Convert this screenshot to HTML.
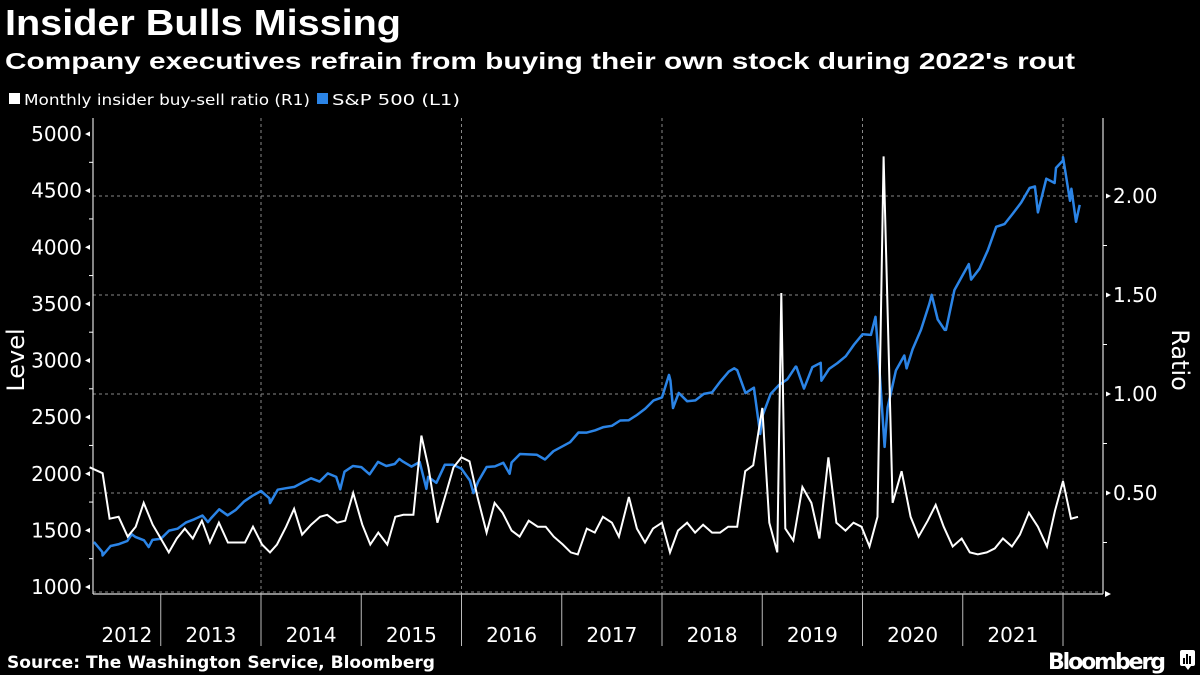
<!DOCTYPE html>
<html><head><meta charset="utf-8"><style>
html,body{margin:0;padding:0;background:#000;}
body{width:1200px;height:675px;overflow:hidden;font-family:"Liberation Sans","DejaVu Sans",sans-serif;color:#fff;}
</style></head><body>
<svg id="chart" width="1200" height="675" xmlns="http://www.w3.org/2000/svg" style="position:absolute;left:0;top:0">
<text x="5" y="35" font-size="36" font-weight="bold" fill="#fff" font-family="Liberation Sans, sans-serif" textLength="396" lengthAdjust="spacingAndGlyphs">Insider Bulls Missing</text>
<text x="5" y="69" font-size="23" font-weight="bold" fill="#fff" font-family="Liberation Sans, sans-serif" textLength="1070" lengthAdjust="spacingAndGlyphs">Company executives refrain from buying their own stock during 2022's rout</text>
<g>
<rect x="9" y="93" width="11" height="11" fill="#fff"/>
<text x="24" y="105" font-size="15" fill="#fff" font-family="DejaVu Sans, sans-serif" textLength="286" lengthAdjust="spacingAndGlyphs">Monthly insider buy-sell ratio (R1)</text>
<rect x="317" y="93" width="11" height="11" fill="#2b84e6"/>
<text x="332" y="105" font-size="15" fill="#fff" font-family="DejaVu Sans, sans-serif" textLength="128" lengthAdjust="spacingAndGlyphs">S&amp;P 500 (L1)</text>
</g>
<g id="grid"></g>
<g id="axes"></g>
<g id="series"></g>
<text transform="translate(24,360) rotate(-90)" text-anchor="middle" font-size="24" fill="#fff" font-family="DejaVu Sans, sans-serif">Level</text>
<text transform="translate(1172,360) rotate(90)" text-anchor="middle" font-size="24" fill="#fff" font-family="DejaVu Sans, sans-serif">Ratio</text>
<text x="7" y="668" font-size="16.5" font-weight="bold" fill="#fff" font-family="DejaVu Sans, sans-serif" textLength="428" lengthAdjust="spacingAndGlyphs">Source: The Washington Service, Bloomberg</text>
<text x="1048" y="669" font-size="22" font-weight="bold" fill="#fff" font-family="DejaVu Sans, sans-serif" textLength="118">Bloomberg</text>
<g>
<rect x="1180" y="650" width="15" height="16" rx="2" fill="#fff"/>
<path d="M1185 666 l3 4 l3 -4z" fill="#fff"/>
<rect x="1183" y="658" width="2" height="6" fill="#000"/><rect x="1186" y="654" width="2" height="10" fill="#000"/><rect x="1189" y="656" width="2" height="8" fill="#000"/>
</g>
</svg>
<script>
const years = ["2012","2013","2014","2015","2016","2017","2018","2019","2020","2021"];
const leftTicks = [1000,1500,2000,2500,3000,3500,4000,4500,5000];
const rightTicks = [0.5,1.0,1.5,2.0];
const rightTickLabels = ["0.50","1.00","1.50","2.00"];
const ratioDates = [2012.29,2012.42,2012.49,2012.58,2012.67,2012.75,2012.83,2012.92,2012.99,2013.08,2013.16,2013.24,2013.32,2013.41,2013.49,2013.58,2013.67,2013.76,2013.84,2013.92,2014.01,2014.09,2014.16,2014.25,2014.33,2014.41,2014.50,2014.59,2014.66,2014.76,2014.84,2014.92,2015.01,2015.09,2015.17,2015.26,2015.34,2015.42,2015.52,2015.60,2015.67,2015.76,2015.84,2015.92,2016.00,2016.08,2016.16,2016.25,2016.33,2016.41,2016.50,2016.58,2016.67,2016.76,2016.84,2016.92,2017.01,2017.09,2017.16,2017.25,2017.33,2017.41,2017.50,2017.57,2017.67,2017.75,2017.83,2017.91,2018.00,2018.08,2018.16,2018.25,2018.33,2018.41,2018.50,2018.58,2018.66,2018.75,2018.83,2018.91,2019.00,2019.07,2019.15,2019.19,2019.23,2019.31,2019.40,2019.49,2019.57,2019.66,2019.74,2019.83,2019.91,2019.99,2020.07,2020.15,2020.21,2020.30,2020.39,2020.48,2020.56,2020.65,2020.73,2020.81,2020.90,2020.99,2021.07,2021.15,2021.24,2021.32,2021.40,2021.49,2021.57,2021.66,2021.75,2021.84,2021.92,2022.00,2022.08,2022.15];
const ratioValues = [0.63,0.60,0.37,0.38,0.28,0.33,0.45,0.34,0.28,0.20,0.27,0.32,0.27,0.36,0.25,0.35,0.25,0.25,0.25,0.33,0.24,0.20,0.24,0.33,0.42,0.29,0.34,0.38,0.39,0.35,0.36,0.50,0.34,0.24,0.30,0.24,0.38,0.39,0.39,0.79,0.63,0.35,0.49,0.63,0.68,0.66,0.48,0.30,0.45,0.40,0.31,0.28,0.36,0.33,0.33,0.28,0.24,0.20,0.19,0.32,0.30,0.38,0.35,0.28,0.48,0.32,0.25,0.32,0.35,0.20,0.31,0.35,0.30,0.34,0.30,0.30,0.33,0.33,0.61,0.64,0.93,0.35,0.20,1.51,0.32,0.26,0.53,0.45,0.27,0.68,0.35,0.31,0.35,0.33,0.23,0.38,2.20,0.45,0.61,0.38,0.28,0.36,0.44,0.33,0.23,0.27,0.20,0.19,0.20,0.22,0.27,0.23,0.29,0.40,0.33,0.23,0.41,0.56,0.37,0.38];
const spxStart = "2012-04";
const spxMonthly = [1398,1310,1362,1379,1406,1441,1412,1416,1426,
1498,1515,1569,1598,1631,1606,1686,1633,1682,1757,1806,1848,
1783,1859,1872,1884,1924,1960,1931,2003,1972,2018,2068,2059,
1995,2105,2068,2086,2107,2063,2104,1972,1920,2079,2080,2044,
1940,1932,2060,2065,2097,2099,2174,2171,2168,2126,2199,2239,
2279,2364,2363,2384,2412,2423,2470,2472,2519,2575,2648,2674,
2824,2714,2641,2648,2705,2718,2816,2902,2914,2712,2760,2507,
2704,2784,2834,2946,2752,2942,2980,2926,2977,3038,3141,3231,
3226,2954,2585,2912,3044,3100,3271,3500,3363,3270,3622,3756,
3714,3811,3973,4181,4204,4298,4395,4523,4308,4605,4567,4766,
4516,4374];
const spxExtremeDates = [2012.42,2012.71,2012.88,2013.47,2014.09,2014.79,2015.38,2015.65,2016.12,2016.48,2018.07,2018.11,2018.72,2018.98,2019.34,2019.59,2020.13,2020.22,2020.44,2020.69,2020.82,2021.06,2021.72,2021.93,2022.00,2022.07,2022.13];
const spxExtremeValues = [1278,1465,1353,1573,1741,1862,2131,1867,1829,2000,2873,2581,2931,2351,2945,2822,3386,2237,2930,3580,3270,3851,4537,4701,4796,4410,4225];

const svg = document.getElementById('chart');
const NS = "http://www.w3.org/2000/svg";
const X0 = 93, X1 = 1100, Y0 = 594;
const xOf = d => 60.5 + (d - 2012) * 100.25;
const yL = v => 587 - (v - 1000) * 0.11325;
const yR = v => 592 - v * 198;
function mk(tag, parent, attrs){const e=document.createElementNS(NS,tag);for(const k in attrs)e.setAttribute(k,attrs[k]);parent.appendChild(e);return e;}
const grid = document.getElementById('grid'), axes = document.getElementById('axes'), series = document.getElementById('series');

[0].concat(rightTicks).forEach(v=>{
  const l = mk('line', grid, {x1:X0,x2:X1,y1:yR(v),y2:yR(v),stroke:'#888','stroke-width':1,'stroke-dasharray':'3,3'});
  
  
});
[2014,2016,2018,2020,2022].forEach(y=>{
  const l = mk('line', grid, {x1:xOf(y),x2:xOf(y),y1:118,y2:Y0,stroke:'#888','stroke-width':1,'stroke-dasharray':'3,3'});
  
  
});
let a = mk('line', axes, {x1:X0,x2:X0,y1:118,y2:Y0,stroke:'#ddd','stroke-width':1.2});


a = mk('line', axes, {x1:1103,x2:1103,y1:118,y2:Y0,stroke:'#ddd','stroke-width':1.2});


a = mk('line', axes, {x1:X0,x2:1103,y1:Y0,y2:Y0,stroke:'#ddd','stroke-width':1.2});


leftTicks.forEach((v,i)=>{
  const y=yL(v);
  const t = mk('text', axes, {x:82,y:y+7,'text-anchor':'end','font-size':20,fill:'#fff','font-family':'DejaVu Sans, sans-serif'});
  t.textContent = v;
  
  
  mk('path', axes, {d:`M${X0-8} ${y} l5 -2.5 v5z`,fill:'#fff'});
  if(i<leftTicks.length-1){const ym=yL(v+250);mk('line',axes,{x1:X0,x2:X0-4,y1:ym,y2:ym,stroke:'#fff'});}
});
rightTicks.forEach((v,i)=>{
  const y=yR(v);
  const t = mk('text', axes, {x:1113,y:y+7,'font-size':20,fill:'#fff','font-family':'DejaVu Sans, sans-serif'});
  t.textContent = rightTickLabels[i];
  
  
  mk('path', axes, {d:`M${1111} ${y} l-5 -2.5 v5z`,fill:'#fff'});
});
mk('path', axes, {d:`M1111 ${Y0} l-6 -3 v6z`,fill:'#fff'});
[0.25,0.75,1.25,1.75].forEach(v=>{const y=yR(v);mk('line',axes,{x1:1103,x2:1107,y1:y,y2:y,stroke:'#fff'});});
years.forEach((yr,i)=>{
  const y = +yr;
  if(i>0){
    const l = mk('line', axes, {x1:xOf(y),x2:xOf(y),y1:Y0,y2:646,stroke:'#bbb','stroke-width':1});
    
    
  }
  const cx = i===0 ? (X0+xOf(2013))/2 : xOf(y+0.5);
  const t = mk('text', axes, {x:cx,y:642,'text-anchor':'middle','font-size':20,fill:'#fff','font-family':'DejaVu Sans, sans-serif'});
  t.textContent = yr;
  
  
});
mk('line', axes, {x1:xOf(2022),x2:xOf(2022),y1:Y0,y2:646,stroke:'#bbb'});

const [sy, sm] = spxStart.split('-').map(Number);
let spxPts = spxMonthly.map((v,i)=>[sy + (sm + i)/12, v]);
spxExtremeDates.forEach((d,i)=>spxPts.push([d, spxExtremeValues[i]]));
spxPts.sort((p,q)=>p[0]-q[0]);
spxPts = spxPts.filter(p=>p[0]>=2012.28);
const spx = mk('polyline', series, {points: spxPts.map(p=>`${xOf(p[0]).toFixed(1)},${yL(p[1]).toFixed(1)}`).join(' '),fill:'none',stroke:'#2b84e6','stroke-width':2.5,'stroke-linejoin':'round'});


const rl = mk('polyline', series, {points: ratioDates.map((d,i)=>`${xOf(d).toFixed(1)},${yR(ratioValues[i]).toFixed(1)}`).join(' '),fill:'none',stroke:'#fff','stroke-width':2,'stroke-linejoin':'miter'});


</script>
</body></html>
